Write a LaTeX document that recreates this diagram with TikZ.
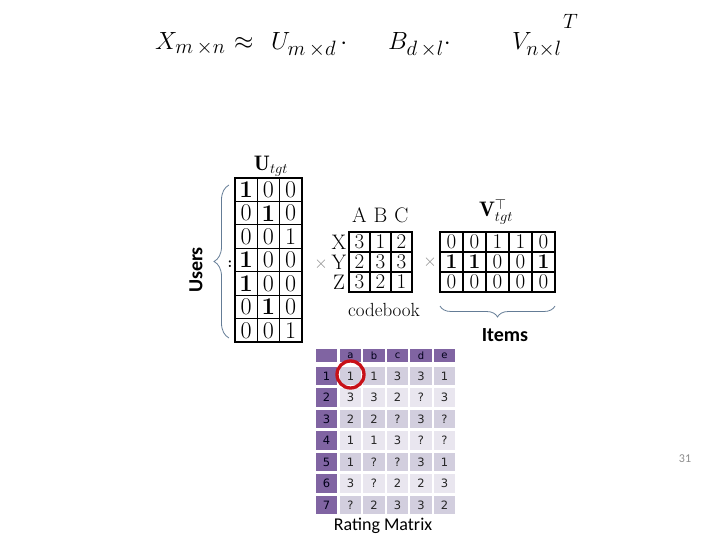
\documentclass[tikz,border=0pt]{standalone}
\usepackage{fontspec}
\newfontfamily\carl{Carlito}
\newfontfamily\dejv{DejaVu Sans}
\usetikzlibrary{decorations.pathreplacing}
\definecolor{rmpurple}{RGB}{128,100,162}
\definecolor{rmdark}{RGB}{210,206,222}
\definecolor{rmlight}{RGB}{233,230,239}
\definecolor{bracecol}{RGB}{100,124,150}
\definecolor{ringred}{RGB}{200,16,24}
\definecolor{pagegray}{RGB}{140,140,140}
\begin{document}
\begin{tikzpicture}[x=1pt,y=-1pt,
  eq/.style={anchor=base west, inner sep=0pt, font=\fontsize{30}{30}\selectfont},
  ucell/.style={draw, line width=1.2pt, minimum width=22.3pt, minimum height=23.4pt, inner sep=0pt, font=\fontsize{24}{24}\selectfont},
  cbcell/.style={draw, line width=1.2pt, minimum width=21pt, minimum height=20pt, inner sep=0pt, font=\fontsize{21}{21}\selectfont},
  vcell/.style={draw, line width=1.2pt, minimum width=23pt, minimum height=20pt, inner sep=0pt, font=\fontsize{21}{21}\selectfont},
  lbl/.style={inner sep=0pt, font=\fontsize{21}{21}\selectfont},
  rcell/.style={minimum width=21.5pt, minimum height=18.5pt, inner sep=0pt, text=black!85, font=\dejv\fontsize{11.5}{11.5}\selectfont},
  rhcell/.style={rcell, fill=rmpurple, text=black!90!blue},
  timesop/.style={inner sep=0pt, text=black!45, font=\fontsize{17}{17}\selectfont},
  bracedraw/.style={draw=bracecol, line width=0.8pt, decorate},
  sanslbl/.style={inner sep=0pt, font=\carl\bfseries\fontsize{20}{20}\selectfont}
]
\useasboundingbox (0,0) rectangle (720,540);

% equation
\node[eq] (eqX) at (155,50) {$X_{m\,\times n}$};
\node[eq] (eqA) at (234,50) {$\approx$};
\node[eq] (eqU) at (271,50) {$U_{m\,\times d}\,\cdot$};
\node[eq] (eqB) at (388,50) {$B_{d\,\times l}\cdot$};
\node[eq] (eqV) at (512,50) {$V_{n\times l}$};
\node[anchor=base west, inner sep=0pt, font=\fontsize{22}{22}\selectfont] (eqT) at (563,29) {$T$};

% U matrix
\node[lbl] (ulabel) at (271,166) {$\mathbf{U}_{tgt}$};
\foreach \r/\row in {1/{{\bfseries 1},0,0},2/{0,{\bfseries 1},0},3/{0,0,1},4/{{\bfseries 1},0,0},5/{{\bfseries 1},0,0},6/{0,{\bfseries 1},0},7/{0,0,1}}{
  \foreach \v [count=\c] in \row {
    \node[ucell] (u-\r-\c) at ({235+11.15+(\c-1)*22.3},{178+11.7+(\r-1)*23.43}) {\v};
  }
}
\draw[bracedraw, decoration={brace, amplitude=15pt}] (229,338) coordinate (ub1) -- (229,185) coordinate (ub2);
\node[sanslbl, rotate=90] (users) at (196,270) {Users};
\node[inner sep=0pt, font=\bfseries\fontsize{15}{15}\selectfont] (colon) at (230,264) {:};
\node[timesop] (times1) at (321,264) {$\times$};

% codebook
\foreach \l [count=\c] in {A,B,C}{
  \node[lbl] (cbh-\c) at ({359.5+(\c-1)*21},215) {\l};
}
\foreach \l [count=\r] in {X,Y,Z}{
  \node[lbl] (cbr-\r) at (339,{242+(\r-1)*20}) {\l};
}
\foreach \r/\row in {1/{3,1,2},2/{2,3,3},3/{3,2,1}}{
  \foreach \v [count=\c] in \row {
    \node[cbcell] (cb-\r-\c) at ({359.5+(\c-1)*21},{242+(\r-1)*20}) {\v};
  }
}
\node[inner sep=0pt, font=\fontsize{19}{19}\selectfont] (codebook) at (384,310) {codebook};
\node[timesop] (times2) at (430,262) {$\times$};

% V matrix
\node[lbl] (vlabel) at (496,212) {$\mathbf{V}^{\top}_{tgt}$};
\foreach \r/\row in {1/{0,0,1,1,0},2/{{\bfseries 1},{\bfseries 1},0,0,{\bfseries 1}},3/{0,0,0,0,0}}{
  \foreach \v [count=\c] in \row {
    \node[vcell] (v-\r-\c) at ({451.5+(\c-1)*23},{242+(\r-1)*20}) {\v};
  }
}
\draw[bracedraw, decoration={brace, amplitude=11pt}] (555,306) coordinate (vb1) -- (440,306) coordinate (vb2);
\node[sanslbl] (items) at (505,335) {Items};

% rating matrix
\node[rhcell, minimum height=13pt] (rm-0-0) at (326.5,355.5) {};
\foreach \l [count=\c] in {a,b,c,d,e}{
  \node[rhcell, minimum height=13pt, font=\dejv\fontsize{10}{10}\selectfont] (rm-0-\c) at ({350.5+(\c-1)*23.5},355.5) {\l};
}
\foreach \r/\row in {1/{1,1,3,3,1},2/{3,3,2,?,3},3/{2,2,?,3,?},4/{1,1,3,?,?},5/{1,?,?,3,1},6/{3,?,2,2,3},7/{?,2,3,3,2}}{
  \ifodd\r\relax \def\band{rmdark}\else \def\band{rmlight}\fi
  \node[rhcell] (rm-\r-0) at (326.5,{376+(\r-1)*21.5}) {\r};
  \foreach \v [count=\c] in \row {
    \node[rcell, fill=\band] (rm-\r-\c) at ({350.5+(\c-1)*23.5},{376+(\r-1)*21.5}) {\v};
  }
}
\node[draw=ringred, line width=3.3pt, circle, minimum size=27pt, inner sep=0pt] (ring) at (350.5,374.5) {};
\node[inner sep=0pt, font=\carl\fontsize{18}{18}\selectfont] (rmlabel) at (383,526) {Rating Matrix};

% page number
\node[inner sep=0pt, text=pagegray, font=\carl\fontsize{12}{12}\selectfont] (pagenum) at (685,459) {31};
\end{tikzpicture}
\end{document}
